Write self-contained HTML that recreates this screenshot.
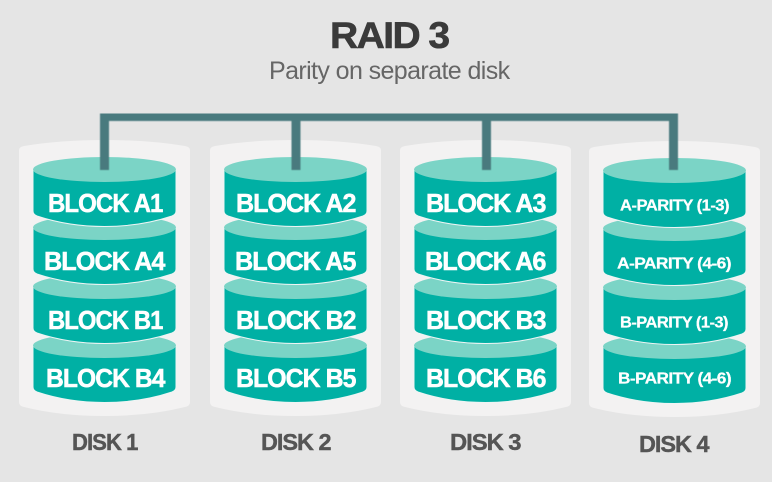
<!DOCTYPE html>
<html><head><meta charset="utf-8">
<style>
html,body{margin:0;padding:0;background:#e5e5e5;width:772px;height:482px;overflow:hidden}
svg{display:block}
text{font-family:"Liberation Sans",sans-serif;font-weight:bold;text-anchor:start}
.b{fill:#fff;stroke:#fff;stroke-width:.5px;font-size:26px;letter-spacing:-1px}
.p{fill:#fff;stroke:#fff;stroke-width:.25px;font-size:15.5px;letter-spacing:-.5px}
.d{fill:#555;stroke:#555;stroke-width:.4px;font-size:23px;letter-spacing:-1px}
</style></head><body>
<svg width="772" height="482" viewBox="0 0 772 482" xmlns="http://www.w3.org/2000/svg">
<defs>
<filter id="s" x="-5%" y="-5%" width="110%" height="110%"><feGaussianBlur stdDeviation="0.5"/></filter>
<g id="panel"><path d="M19 150Q19 147 24 146Q60 140 104.500 140Q149 140 185 146Q190 147 190 150V402Q190 406 185 407Q149 416 104.500 416Q60 416 24 407Q19 406 19 402Z" fill="#f3f2f2"/></g>
<g id="cyl">
<path d="M33 169V211Q33 214.500 37 216C58 223 82 226.500 104.500 226.500C127 226.500 151 223 172 216Q176 214.500 176 211V169Z" fill="#00b0a4" stroke="#eef5f4" stroke-width="1"/>
<ellipse cx="104.500" cy="169.500" rx="71.500" ry="12.500" fill="#7bd4c6"/>
</g>
<g id="stack">
<use href="#cyl" y="176"/>
<use href="#cyl" y="117"/>
<use href="#cyl" y="58"/>
<use href="#cyl"/>
</g>
</defs>
<rect width="772" height="482" fill="#e5e5e5"/>
<text x="330" y="48" font-size="37" fill="#3a3a3a" stroke="#3a3a3a" stroke-width=".6" letter-spacing="-1.5" textLength="118.500" lengthAdjust="spacingAndGlyphs">RAID 3</text>
<text x="269" y="79" font-size="25" fill="#666" letter-spacing="-.6" style="font-weight:normal" textLength="240.500" lengthAdjust="spacingAndGlyphs">Parity on separate disk</text>

<use href="#panel"/><use href="#panel" x="191"/><use href="#panel" x="381"/><use href="#panel" x="570" y="1"/>
<use href="#stack"/><use href="#stack" x="191"/><use href="#stack" x="381"/><use href="#stack" x="570" y="1"/>

<path d="M104.500 170V116.500H673.500V170M296 116.500V170M486.500 116.500V170" fill="none" stroke="#4a7a7e" stroke-width="9" filter="url(#s)"/>

<g class="lb">
<text class="b" x="48" y="212" textLength="114.500" lengthAdjust="spacingAndGlyphs">BLOCK A1</text>
<text class="b" x="44" y="270" textLength="120.500" lengthAdjust="spacingAndGlyphs">BLOCK A4</text>
<text class="b" x="48" y="329" textLength="114.500" lengthAdjust="spacingAndGlyphs">BLOCK B1</text>
<text class="b" x="46" y="387" textLength="118.500" lengthAdjust="spacingAndGlyphs">BLOCK B4</text>
<text class="b" x="236" y="212" textLength="119.500" lengthAdjust="spacingAndGlyphs">BLOCK A2</text>
<text class="b" x="235" y="270" textLength="120.500" lengthAdjust="spacingAndGlyphs">BLOCK A5</text>
<text class="b" x="236" y="329" textLength="119.500" lengthAdjust="spacingAndGlyphs">BLOCK B2</text>
<text class="b" x="236" y="387" textLength="119.500" lengthAdjust="spacingAndGlyphs">BLOCK B5</text>
<text class="b" x="426" y="212" textLength="119.500" lengthAdjust="spacingAndGlyphs">BLOCK A3</text>
<text class="b" x="425" y="270" textLength="120.500" lengthAdjust="spacingAndGlyphs">BLOCK A6</text>
<text class="b" x="426" y="329" textLength="119.500" lengthAdjust="spacingAndGlyphs">BLOCK B3</text>
<text class="b" x="426" y="387" textLength="119.500" lengthAdjust="spacingAndGlyphs">BLOCK B6</text>
<text class="p" x="620" y="210.500" textLength="109" lengthAdjust="spacingAndGlyphs">A-PARITY (1-3)</text>
<text class="p" x="617" y="268.500" textLength="114" lengthAdjust="spacingAndGlyphs">A-PARITY (4-6)</text>
<text class="p" x="620" y="327.500" textLength="108" lengthAdjust="spacingAndGlyphs">B-PARITY (1-3)</text>
<text class="p" x="618" y="383.500" textLength="113" lengthAdjust="spacingAndGlyphs">B-PARITY (4-6)</text>
<text class="d" x="72" y="450" textLength="65.500" lengthAdjust="spacingAndGlyphs">DISK 1</text>
<text class="d" x="261" y="450" textLength="69.500" lengthAdjust="spacingAndGlyphs">DISK 2</text>
<text class="d" x="450" y="450" textLength="70.500" lengthAdjust="spacingAndGlyphs">DISK 3</text>
<text class="d" x="639" y="452" textLength="69.500" lengthAdjust="spacingAndGlyphs">DISK 4</text>
</g>
</svg>
</body></html>
